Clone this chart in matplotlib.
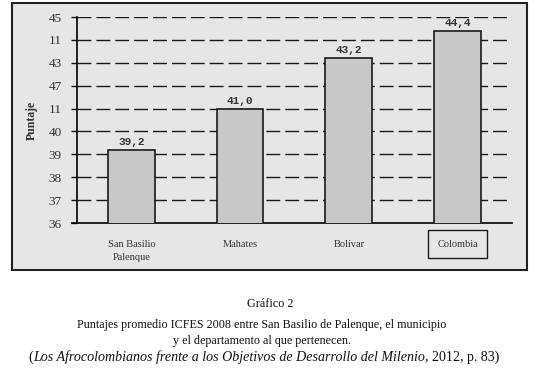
import matplotlib
matplotlib.use("Agg")
import matplotlib.pyplot as plt
from matplotlib.patches import Rectangle

categories = ["San Basilio\nPalenque", "Mahates", "Bolívar", "Colombia"]
puntajes = [39.2, 41.0, 43.2, 44.4]
value_labels = ["39,2", "41,0", "43,2", "44,4"]
ytick_vals = [36, 37, 38, 39, 40, 41, 42, 43, 44, 45]
ytick_labels = ["36", "37", "38", "39", "40", "11", "47", "43", "11", "45"]

serif = "Liberation Serif"

fig = plt.figure(figsize=(5.37, 3.74), dpi=100)
fig.patch.set_facecolor("white")

# grey frame around the chart
frame = Rectangle((0.0223, 0.278), 0.959, 0.714, transform=fig.transFigure,
                  facecolor="#e6e6e6", edgecolor="#222222", linewidth=1.5, zorder=-1)
fig.patches.append(frame)

ax = fig.add_axes([0.1434, 0.4037, 0.81, 0.5508])
ax.set_facecolor("none")
ax.set_zorder(1)

x = range(len(categories))
ax.bar(x, puntajes, width=0.43, color="#c8c8c8", edgecolor="#1a1a1a",
       linewidth=1.2, zorder=3)

for xi, v, lab in zip(x, puntajes, value_labels):
    ax.text(xi, v + 0.12, lab, ha="center", va="bottom", fontsize=8,
            fontweight="bold", family="Liberation Mono", color="#333333", zorder=4)

ax.set_ylim(36, 45)
ax.set_xlim(-0.5, 3.5)
for t in ytick_vals[1:]:
    ax.axhline(t, color="#1a1a1a", linewidth=1.0, dashes=(10, 3.6), zorder=1)

ax.set_yticks(ytick_vals)
ax.set_yticklabels(ytick_labels, family=serif, fontsize=9.5, color="#333333")
ax.tick_params(axis="y", direction="out", length=4, width=1, pad=7, color="#1a1a1a")
ax.set_xticks(list(x))
ax.set_xticklabels(categories, family=serif, fontsize=7.5, color="#333333",
                   linespacing=1.6, va="top")
ax.tick_params(axis="x", length=0, pad=12)

ax.set_ylabel("Puntaje", family=serif, fontsize=8.5, fontweight="bold",
              color="#333333", labelpad=8)

for s in ["top", "right"]:
    ax.spines[s].set_visible(False)
ax.spines["left"].set_linewidth(1.2)
ax.spines["bottom"].set_linewidth(1.2)
ax.spines["bottom"].set_bounds(-0.548, 3.5)

# box around Colombia
xl = ax.get_xticklabels()[3]
xl.set_bbox(dict(facecolor="none", edgecolor="#1a1a1a", linewidth=1.0,
                 boxstyle="square,pad=0.9"))

# caption
cap = dict(ha="center", va="baseline", family=serif, fontsize=8.7, color="#111111")
fig.text(0.503, 0.178, "Gráfico 2", **cap)
fig.text(0.487, 0.124, "Puntajes promedio ICFES 2008 entre San Basilio de Palenque, el municipio", **cap)
fig.text(0.487, 0.080, "y el departamento al que pertenecen.", **cap)

# mixed italic last line
parts = [("(", "normal"),
         ("Los Afrocolombianos frente a los Objetivos de Desarrollo del Milenio", "italic"),
         (", 2012, p. 83)", "normal")]
renderer = fig.canvas.get_renderer()
texts = []
for s, st in parts:
    t = fig.text(0, 0.035, s, ha="left", va="baseline", family=serif,
                 fontsize=10.1, style=st, color="#111111")
    texts.append(t)
widths = [t.get_window_extent(renderer).width for t in texts]
total = sum(widths)
xpos = 0.491 * fig.bbox.width - total / 2
for t, w in zip(texts, widths):
    t.set_x(xpos / fig.bbox.width)
    xpos += w

fig.savefig("out.png", dpi=100)
